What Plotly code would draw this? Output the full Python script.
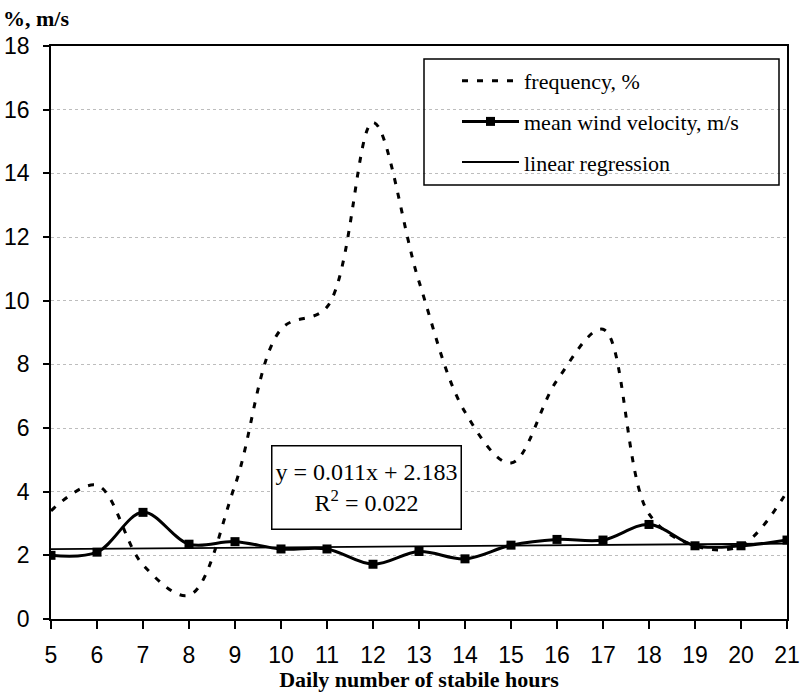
import plotly.graph_objects as go

hours = [5, 6, 7, 8, 9, 10, 11, 12, 13, 14, 15, 16, 17, 18, 19, 20, 21]
frequency = [3.4, 4.2, 1.7, 0.75, 4.2, 9.1, 9.8, 15.6, 10.6, 6.5, 4.9, 7.5, 9.1, 3.3, 2.3, 2.3, 4.0]
velocity = [2.0, 2.1, 3.35, 2.35, 2.43, 2.2, 2.2, 1.72, 2.12, 1.89, 2.32, 2.5, 2.48, 2.97, 2.3, 2.3, 2.48]
reg_slope = 0.011
reg_intercept = 2.183
reg_r2 = 0.022
y_ticks = [0, 2, 4, 6, 8, 10, 12, 14, 16, 18]

idx = list(range(1, len(hours) + 1))
regression = [reg_slope * i + reg_intercept for i in idx]

L, R, T, B = 51, 13, 46, 73
W, H = 800, 692
PW, PH = W - L - R, H - T - B


def px(xp):
    return (xp - L) / PW


def py(yp):
    return (H - B - yp) / PH


serif = "Liberation Serif, Times New Roman, serif"
sans = "Liberation Sans, Arial, sans-serif"

fig = go.Figure()
fig.add_trace(go.Scatter(
    x=hours, y=frequency, mode="lines", name="frequency, %",
    line=dict(color="black", width=3, dash="6px,9px", shape="spline", smoothing=1.0),
    legendgroup="a", legendrank=1,
))
fig.add_trace(go.Scatter(
    x=hours, y=regression, mode="lines", name="linear regression",
    line=dict(color="black", width=1.8),
    legendgroup="c", legendrank=3,
))
fig.add_trace(go.Scatter(
    x=hours, y=velocity, mode="lines+markers", name="mean wind velocity, m/s",
    line=dict(color="black", width=3, shape="spline", smoothing=1.0),
    marker=dict(symbol="square", size=9, color="black"),
    legendgroup="b", legendrank=2,
))

fig.update_layout(
    width=W, height=H,
    margin=dict(l=L, r=R, t=T, b=B, autoexpand=False),
    paper_bgcolor="white", plot_bgcolor="white",
    showlegend=True,
    legend=dict(
        x=px(457), y=py(60), xanchor="left", yanchor="top",
        bgcolor="rgba(0,0,0,0)", borderwidth=0,
        font=dict(family=serif, size=22, color="black"),
        itemwidth=57, tracegroupgap=9,
    ),
    xaxis=dict(
        range=[5, 21], tickmode="array", tickvals=hours,
        ticktext=[str(h) for h in hours], automargin=False,
        showline=True, linecolor="black", linewidth=1.5, mirror=True,
        ticks="outside", ticklen=8, tickcolor="black", tickwidth=1.5,
        showgrid=False, zeroline=False,
        tickfont=dict(family=sans, size=23, color="black"),
        ticklabelstandoff=7,
        title=dict(text="<b>Daily number of stabile hours</b>",
                   font=dict(family=serif, size=22, color="black"), standoff=3),
    ),
    yaxis=dict(
        range=[0, 18], tickmode="array", tickvals=y_ticks, automargin=False,
        showline=True, linecolor="black", linewidth=1.5, mirror=True,
        ticks="outside", ticklen=6, tickcolor="black", tickwidth=1.5,
        showgrid=True, gridcolor="#bdbdbd", griddash="dot", gridwidth=1,
        zeroline=False,
        tickfont=dict(family=sans, size=23, color="black"),
        ticklabelstandoff=9,
    ),
    shapes=[dict(
        type="rect", xref="paper", yref="paper",
        x0=px(424), x1=px(779), y0=py(185), y1=py(59),
        line=dict(color="black", width=1.5), fillcolor="rgba(0,0,0,0)", layer="above",
    )],
    annotations=[
        dict(text="<b>%, m/s</b>", xref="paper", yref="paper",
             x=px(1), y=py(18), xanchor="left", yanchor="middle", showarrow=False,
             font=dict(family=serif, size=22, color="black")),
        dict(text=f"y = {reg_slope:.3f}x + {reg_intercept:.3f}<br>R<sup>2</sup> = {reg_r2:.3f}",
             xref="paper", yref="paper", x=px(366), y=py(487), xanchor="center", yanchor="middle",
             showarrow=False, align="center", width=188, height=82,
             bgcolor="white", bordercolor="black", borderwidth=1.5, borderpad=0,
             font=dict(family=serif, size=24, color="black")),
    ],
)

fig.write_html("out.html")
